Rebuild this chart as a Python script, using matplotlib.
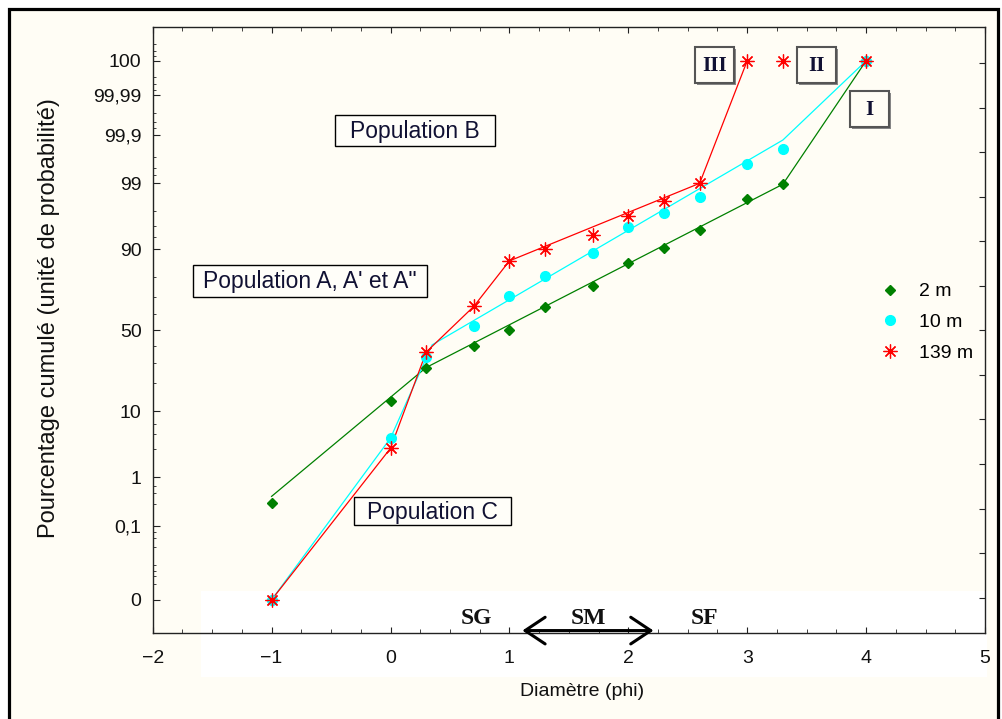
import math
import numpy as np
import matplotlib
matplotlib.use('Agg')
import matplotlib.pyplot as plt
from matplotlib.patches import Rectangle
from matplotlib.ticker import MultipleLocator, NullFormatter

# Diametre (phi) des echantillons
x_pts = [-1, 0, 0.3, 0.7, 1, 1.3, 1.7, 2, 2.3, 2.6, 3, 3.3, 4]

# pourcentage cumule
pct_2m = [0.31, 13.3, 27.8, 39.9, 50, 64.3, 75.9, 85.6, 90.3, 94.4, 98.1, 98.96, 100]
pct_10m = [0, 4.4, 33.8, 52.8, 70.4, 80.6, 88.9, 94.9, 96.8, 98.25, 99.58, 99.79, 100]
pct_139m = [0, 3.1, 36.5, 64.7, 86.4, 90.06, 93.5, 96.5, 97.98, 99.0, 100, 100, 100]

# droites d'ajustement (segments)
fit_2m_x = [-1, 0.3, 3.3, 4]
fit_2m_y = [0.43, 27.8, 98.96, 100]
fit_10m_x = [-1, 0, 0.35, 3.3, 4]
fit_10m_y = [0, 4.4, 40.9, 99.87, 100]
fit_139m_x = [-1, 0, 0.3, 0.7, 1, 2.6, 3]
fit_139m_y = [0, 3.1, 36.5, 64.7, 86.4, 99.0, 100]

y_ticks = [0, 0.1, 1, 10, 50, 90, 99, 99.9, 99.99, 100]
y_ticklabels = ['0', '0,1', '1', '10', '50', '90', '99', '99,9', '99,99', '100']
y_minor = [0.003, 0.005, 0.007, 0.01, 0.03, 0.05, 0.07, 0.3, 0.5, 0.7, 3, 5, 7,
           20, 30, 40, 60, 70, 80, 93, 95, 97, 99.3, 99.5, 99.7, 99.93, 99.95,
           99.97, 99.993, 99.995, 99.997, 99.9993, 99.9995, 99.9997]

W, H = 1002, 719
cream = '#fffdf5'

# echelle de probabilite (probit), 0 et 100 places a 0.001 / 99.999
zgrid = np.linspace(-6, 6, 6001)
pgrid = np.array([50 * math.erfc(-z / math.sqrt(2)) for z in zgrid])


def forward(p):
    p = np.asarray(p, dtype=float)
    p = np.where(p >= 100, 99.999, np.where(p <= 0, 0.001, p))
    return np.interp(p, pgrid, zgrid)


def inverse(z):
    return np.interp(z, zgrid, pgrid)


def fx(px):
    return px / W


def fy(py):
    return 1 - py / H


plt.rcParams['font.family'] = ['Liberation Sans', 'DejaVu Sans']

fig = plt.figure(figsize=(W / 100, H / 100), dpi=100, facecolor='white')
fig.add_artist(Rectangle((fx(8.5), -0.05), fx(997.5) - fx(8.5), fy(8.5) + 0.05,
                         transform=fig.transFigure, facecolor=cream,
                         edgecolor='black', lw=2.3, zorder=-1))

ax = fig.add_axes([fx(152.7), fy(633), fx(985) - fx(152.7), fy(27) - fy(633)])
ax.set_facecolor(cream)

# zone blanche collee sous l'axe
ax.add_patch(Rectangle((fx(201), fy(677)), fx(987) - fx(201), fy(591) - fy(677),
                       transform=fig.transFigure, facecolor='white',
                       edgecolor='none', zorder=0.8, clip_on=False))

ax.set_yscale('function', functions=(forward, inverse))

ax.plot(fit_2m_x, fit_2m_y, color='#008000', lw=0.9)
ax.plot(fit_10m_x, fit_10m_y, color='#00ffff', lw=0.9)
ax.plot(fit_139m_x, fit_139m_y, color='#ff0000', lw=0.9)

ax.plot(x_pts, pct_2m, ls='none', marker='D', ms=5.5, color='#008000', label='2 m')
ax.plot(x_pts, pct_10m, ls='none', marker='o', ms=7, color='#00ffff', label='10 m')
ax.plot(x_pts, pct_139m, ls='none', marker=(8, 2, 0), ms=10, mew=0.9,
        color='#ff0000', label='139 m')

ax.set_yticks(y_ticks, y_ticklabels)
ax.set_yticks(y_minor, minor=True)
ax.yaxis.set_minor_formatter(NullFormatter())
ax.set_xticks(range(-2, 6))
ax.xaxis.set_minor_locator(MultipleLocator(0.25))
ax.set_xlim(-2, 5)
ax.set_ylim(inverse(-4.79), inverse(4.80))

for s in ax.spines.values():
    s.set_color('#222222')
    s.set_linewidth(1.0)

ax.tick_params(axis='both', which='both', direction='in', color='#222222',
               labelsize=14, labelcolor='#111111')
ax.tick_params(axis='x', which='both', top=True, pad=12)
ax.tick_params(axis='x', which='major', length=4)
ax.tick_params(axis='x', which='minor', length=3)
ax.tick_params(axis='y', which='major', length=5, pad=8)
ax.tick_params(axis='y', which='minor', length=2.5)

# graduations regulieres sur l'axe de droite
ax2 = ax.twinx()
ax2.set_yticks(np.arange(-6, 7) * 0.705)
ax2.set_ylim(-4.79, 4.80)
ax2.tick_params(axis='y', direction='in', length=4, color='#222222', labelright=False)
for s in ax2.spines.values():
    s.set_visible(False)

ax.set_xlabel('Diamètre (phi)', fontsize=14, color='#111111')
ax.xaxis.set_label_coords(0.516, -0.082)
ax.set_ylabel('Pourcentage cumulé (unité de probabilité)', fontsize=17, color='#111111')
ax.yaxis.set_label_coords(-0.111, 0.52)

ax.legend(loc='upper left', bbox_to_anchor=(0.874, 0.578), frameon=False,
          fontsize=14, borderpad=0, handlelength=1.0, handletextpad=1.0,
          labelspacing=0.68, borderaxespad=0)

# cadres des populations
for txt, x0, y0, x1, y1 in [('Population B', 335, 115, 495, 146),
                            ('Population A, A\' et A"', 193, 265, 427, 297),
                            ('Population C', 354, 497, 511, 525)]:
    fig.add_artist(Rectangle((fx(x0), fy(y1)), fx(x1) - fx(x0), fy(y0) - fy(y1),
                             transform=fig.transFigure, facecolor='#fffef9',
                             edgecolor='black', lw=1, zorder=2.5))
    fig.text(fx((x0 + x1) / 2), fy((y0 + y1) / 2 + 1), txt, fontsize=16.5,
             ha='center', va='center', color='#111133')

# cadres I, II, III
for txt, x0, y0 in [('III', 695, 47), ('II', 797, 47), ('I', 850, 91)]:
    fig.add_artist(Rectangle((fx(x0 + 2), fy(y0 + 38)), fx(39), fy(0) - fy(36),
                             transform=fig.transFigure, facecolor='#888888',
                             edgecolor='none', zorder=2.4))
    fig.add_artist(Rectangle((fx(x0), fy(y0 + 36)), fx(39), fy(0) - fy(36),
                             transform=fig.transFigure, facecolor=cream,
                             edgecolor='#555555', lw=1.5, zorder=2.5))
    fig.text(fx(x0 + 19.5), fy(y0 + 19), txt, fontsize=15, fontweight='bold',
             ha='center', va='center', family='Liberation Serif', color='#111133')

for txt, px in [('SG', 476), ('SM', 588), ('SF', 705)]:
    fig.text(fx(px), fy(618), txt, fontsize=17, fontweight='bold', ha='center',
             va='center', family='Liberation Serif', color='#111111')

ax.annotate('', xy=(2.212, 0.004), xytext=(1.109, 0.004),
            xycoords=('data', 'axes fraction'), textcoords=('data', 'axes fraction'),
            arrowprops=dict(arrowstyle='<->,head_length=0.6,head_width=0.4', lw=2.2,
                            color='black', mutation_scale=24, shrinkA=0, shrinkB=0))

fig.savefig('out.png', dpi=100, facecolor=fig.get_facecolor())
